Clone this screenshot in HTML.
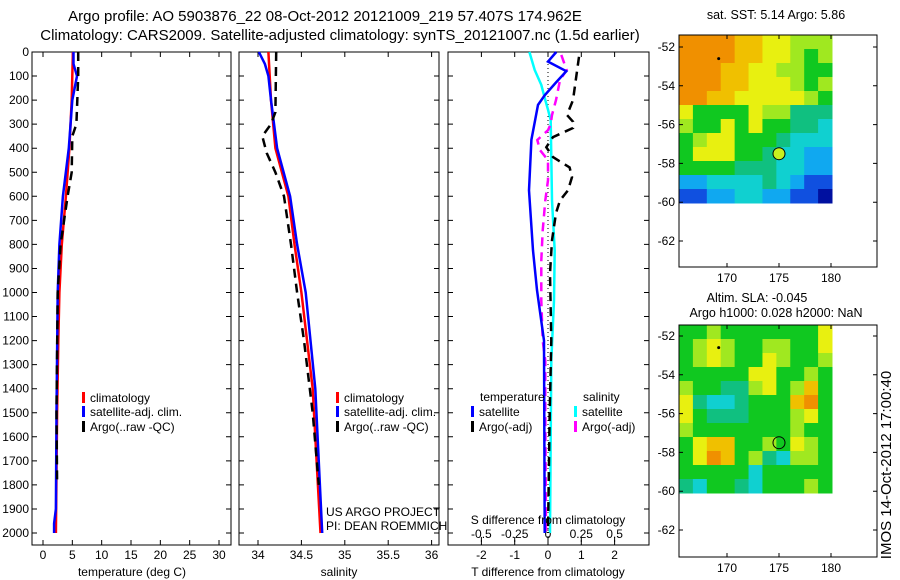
<!DOCTYPE html>
<html><head><meta charset="utf-8"><style>
html,body{margin:0;padding:0;background:#fff;}
svg{display:block;font-family:"Liberation Sans",sans-serif;font-size:12px;}
</style></head><body>
<svg id="s" width="900" height="580" viewBox="0 0 900 580">
<text x="325" y="21" text-anchor="middle" font-size="15">Argo profile: AO 5903876_22 08-Oct-2012 20121009_219 57.407S 174.962E</text>
<text x="340" y="40" text-anchor="middle" font-size="15">Climatology: CARS2009. Satellite-adjusted climatology: synTS_20121007.nc (1.5d earlier)</text>
<text x="776" y="19" text-anchor="middle" font-size="12.5">sat. SST: 5.14 Argo: 5.86</text>
<text x="757" y="302" text-anchor="middle" font-size="12.5">Altim. SLA: -0.045</text>
<text x="776" y="317" text-anchor="middle" font-size="12.5">Argo h1000: 0.028 h2000: NaN</text>
<text transform="translate(891,465) rotate(-90)" text-anchor="middle" font-size="15">IMOS 14-Oct-2012 17:00:40</text>
<text x="326" y="516">US ARGO PROJECT</text>
<text x="326" y="530">PI: DEAN ROEMMICH</text>
</svg>
<script>
// ---- data ----
const depthTicks=[0,100,200,300,400,500,600,700,800,900,1000,1100,1200,1300,1400,1500,1600,1700,1800,1900,2000];
const tTicks=[0,5,10,15,20,25,30];
const sTicks=[34,34.5,35,35.5,36];
const dTTicks=[-2,-1,0,1,2];
const dSTicks=[-0.5,-0.25,0,0.25,0.5];
const dSTickLabels=["-0.5","-0.25","0","0.25","0.5"];
const latTicks=[-52,-54,-56,-58,-60,-62];
const lonTicks=[170,175,180];

const tClimZ=[0,200,400,600,800,1000,1200,1500,2000];
const tClim=[5.1,4.9,4.5,3.9,3.2,2.8,2.6,2.4,2.2];
const tSatZ=[0,50,100,200,400,600,800,1000,1500,1900,1960,2000];
const tSat=[5.2,5.2,5.8,5.0,4.4,3.4,2.8,2.5,2.3,2.2,1.9,1.9];
const tArgoZ=[0,100,300,350,500,600,800,1000,1500,1800];
const tArgo=[6.0,6.0,5.7,5.0,4.9,4.2,3.0,2.5,2.3,2.4];

const sClimZ=[0,200,400,600,800,1000,1400,2000];
const sClim=[34.12,34.15,34.2,34.35,34.42,34.5,34.63,34.72];
const sSatZ=[0,50,100,200,400,600,800,1000,1400,2000];
const sSat=[34.01,34.08,34.12,34.15,34.22,34.37,34.45,34.55,34.66,34.74];
const sArgoZ=[0,250,300,350,420,500,600,800,1000,1200,1500,1800];
const sArgo=[34.21,34.2,34.15,34.05,34.1,34.2,34.3,34.38,34.45,34.53,34.63,34.7];

const dTSatZ=[0,40,80,125,180,220,365,575,825,990,1200,2000];
const dTSat=[0.25,0,0.55,0.25,-0.1,-0.3,-0.5,-0.57,-0.45,-0.33,-0.12,-0.1];
const dTArgoZ=[20,200,262,290,316,354,396,437,480,520,575,617,670,783,920,1200,1500,2000];
const dTArgo=[0.93,0.75,0.57,0.75,0.75,0.15,-0.05,0.15,0.65,0.72,0.6,0.36,0.24,0.12,0.06,0.1,0.05,0];
const dSSatZ=[0,75,137,200,240,283,617,825,1033,1283,2000];
const dSSat=[-0.14,-0.1,-0.05,-0.02,0,0.02,0.03,0.05,0.045,0.025,0.015];
const dSArgoZ=[12,75,117,200,262,300,325,366,408,450,533,617,742,867,1033,1200,1283,1500,2000];
const dSArgo=[0.1,0.14,0.09,0.06,0.03,0.02,0,-0.08,-0.06,0,0,-0.02,-0.04,-0.05,-0.05,-0.04,-0.02,-0.02,-0.015];

const sstGrid=["99998877666","99998877656","99988776655","99988777656","99887777765","75555766444","65575755443","56775554333","57775543322","55554443322","22333343211","11223322110"];
const slaGrid=["55655555557","56765566557","56765576556","55555775565","65544675685","74334555895","75444555675","65555555655","57885565765","57985643665","55555355555","43554355565"];
const palette=["#0010a0","#1050e0","#10a8f0","#10d0d0","#10c080","#10c820","#a0e820","#e8f010","#f0c000","#f09000"];
const argoLon=175, argoLat=-57.5;

// ---- helpers ----
const NS="http://www.w3.org/2000/svg";
const svg=document.getElementById('s');
function mk(tag,at,parent){const e=document.createElementNS(NS,tag);for(const k in at)e.setAttribute(k,at[k]);(parent||svg).appendChild(e);return e;}
const yTop=52, yPx=0.2405, yBot=545;
const yD=d=>yTop+d*yPx;

function panel(name,x0,x1){
  const r=mk('rect',{x:x0,y:yTop,width:x1-x0,height:yBot-yTop,fill:'none',stroke:'#000','stroke-width':1});
  
  
  depthTicks.forEach(d=>{
    const t=mk('path',{d:`M${x0},${yD(d)}h5M${x1},${yD(d)}h-5`,stroke:'#000'});
    
    
  });
}
function xTicks(name,xf,ticks,labels,ly){
  ticks.forEach((v,i)=>{
    const x=xf(v);
    const t=mk('path',{d:`M${x},${yBot}v-5M${x},${yTop}v5`,stroke:'#000'});
    
    
    const l=mk('text',{x:x,y:ly,'text-anchor':'middle'});l.textContent=labels?labels[i]:String(v);
    
    
  });
}
function line(name,zs,vs,xf,color,dash){
  const pts=zs.map((z,i)=>xf(vs[i]).toFixed(1)+','+yD(z).toFixed(1)).join(' ');
  const p=mk('polyline',{points:pts,fill:'none',stroke:color,'stroke-width':2.5,'stroke-dasharray':dash||'none'});
  
  
}
function legend(name,x,y,color,label){
  const m=mk('rect',{x:x-1,y:y-6,width:3,height:11,fill:color});
  
  
  const t=mk('text',{x:x+7,y:y+4});t.textContent=label;
  
  
}

// depth labels
depthTicks.forEach(d=>{
  const l=mk('text',{x:29,y:yD(d)+4,'text-anchor':'end'});l.textContent=String(d);
  
  
});

// panel 1 temperature
const xT=v=>43+v*5.867;
panel('temperature-panel',32,231);
xTicks('temperature',xT,tTicks,null,559);
line('temperature-climatology',tClimZ,tClim,xT,'#ff0000');
line('temperature-satellite',tSatZ,tSat,xT,'#0000ff');
line('temperature-argo',tArgoZ,tArgo,xT,'#000','9,6');
legend('legend-climatology-1',83,398,'#ff0000','climatology');
legend('legend-satellite-1',83,412,'#0000ff','satellite-adj. clim.');
legend('legend-argo-1',83,427,'#000','Argo(..raw -QC)');
{const t=mk('text',{x:132,y:576,'text-anchor':'middle'});t.textContent='temperature (deg C)';}

// panel 2 salinity
const xS=v=>258+(v-34)*86.8;
panel('salinity-panel',239,439);
xTicks('salinity',xS,sTicks,null,559);
line('salinity-climatology',sClimZ,sClim,xS,'#ff0000');
line('salinity-satellite',sSatZ,sSat,xS,'#0000ff');
line('salinity-argo',sArgoZ,sArgo,xS,'#000','9,6');
legend('legend-climatology-2',337,398,'#ff0000','climatology');
legend('legend-satellite-2',337,412,'#0000ff','satellite-adj. clim.');
legend('legend-argo-2',337,427,'#000','Argo(..raw -QC)');
{const t=mk('text',{x:339,y:576,'text-anchor':'middle'});t.textContent='salinity';}

// panel 3 differences
const xDT=v=>548+v*33.3;
const xDS=v=>548+v*133.2;
panel('difference-panel',448,649);
xTicks('t-difference',xDT,dTTicks,null,559);
dSTicks.forEach((v,i)=>{
  const x=xDS(v);
  const t=mk('path',{d:`M${x},${yBot-3}v-5`,stroke:'#000'});
  
  
  const l=mk('text',{x:x,y:538,'text-anchor':'middle'});l.textContent=dSTickLabels[i];
  
  
});
{const z=mk('path',{d:`M${xDT(0)},${yTop}V${yBot}`,stroke:'#000','stroke-dasharray':'1,3'});}
line('s-difference-satellite',dSSatZ,dSSat,xDS,'#00ffff');
line('s-difference-argo',dSArgoZ,dSArgo,xDS,'#ff00ff','9,6');
line('t-difference-satellite',dTSatZ,dTSat,xDT,'#0000ff');
line('t-difference-argo',dTArgoZ,dTArgo,xDT,'#000','9,6');
{const t=mk('text',{x:480,y:401});t.textContent='temperature';}
{const t=mk('text',{x:583,y:401});t.textContent='salinity';}
legend('legend-t-satellite',472,412,'#0000ff','satellite');
legend('legend-t-argo',472,427,'#000','Argo(-adj)');
legend('legend-s-satellite',575,412,'#00ffff','satellite');
legend('legend-s-argo',575,427,'#ff00ff','Argo(-adj)');
{const t=mk('text',{x:548,y:524,'text-anchor':'middle'});t.textContent='S difference from climatology';}
{const t=mk('text',{x:548,y:576,'text-anchor':'middle'});t.textContent='T difference from climatology';}

// maps
function map(name,grid,top,lat52y,filled){
  const x0=679,x1=877,bot=top+232;
  const lonX=v=>727+(v-170)*10.4;
  const latY=v=>lat52y+(-52-v)*19.4;
  const cw=153/grid[0].length, ch=168/grid.length;
  grid.forEach((row,r)=>{for(let c=0;c<row.length;c++){
    const cell=mk('rect',{x:(x0+c*cw).toFixed(2),y:(top+r*ch).toFixed(2),width:(cw+0.5).toFixed(2),height:(ch+0.5).toFixed(2),fill:palette[+row[c]]});
    
    
  }});
  const f=mk('rect',{x:x0,y:top,width:x1-x0,height:bot-top,fill:'none',stroke:'#000'});
  
  
  latTicks.forEach(v=>{
    const y=latY(v);
    const t=mk('path',{d:`M${x0},${y}h4M${x1},${y}h-4`,stroke:'#000'});
    
    
    const l=mk('text',{x:x0-4,y:y+4,'text-anchor':'end'});l.textContent=String(v);
    
    
  });
  lonTicks.forEach(v=>{
    const x=lonX(v);
    const t=mk('path',{d:`M${x},${top}v4M${x},${bot}v-4`,stroke:'#000'});
    
    
    const l=mk('text',{x:x,y:bot+15,'text-anchor':'middle'});l.textContent=String(v);
    
    
  });
  const c=mk('circle',{cx:lonX(argoLon),cy:latY(argoLat),r:6,fill:filled?'#c8f020':'none',stroke:'#000','stroke-width':1});
  
  
  const d=mk('circle',{cx:lonX(169.2),cy:latY(-52.6),r:1.5,fill:'#000'});
  
  
}
map('sst-map',sstGrid,35,47,true);
map('sla-map',slaGrid,325,336,false);
</script>
</body></html>
